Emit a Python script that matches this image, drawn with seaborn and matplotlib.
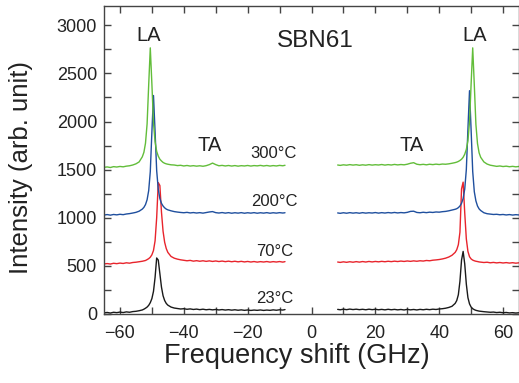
import matplotlib
matplotlib.use("Agg")
import matplotlib.pyplot as plt
import seaborn as sns
import numpy as np
from matplotlib.ticker import MultipleLocator

# ---- data: frequency grids (GHz) ----
x_left = [-65, -64, -63, -62, -61, -60, -59, -58, -57, -56, -55, -54, -53,
          -52.5, -52, -51.5, -51, -50.5, -50, -49.5, -49, -48.5, -48, -47.5,
          -47, -46.5, -46, -45.5, -45,
          -44, -43, -42, -41, -40, -39, -38, -37, -36, -35, -34, -33, -32,
          -31, -30, -29, -28, -27, -26, -25, -24, -23, -22, -21, -20, -19,
          -18, -17, -16, -15, -14, -13, -12, -11, -10, -9, -8.3]
x_right = [8.2, 9, 10, 11, 12, 13, 14, 15, 16, 17, 18, 19, 20, 21, 22, 23, 24,
           25, 26, 27, 28, 29, 30, 31, 32, 33, 34, 35, 36, 37, 38, 39, 40, 41,
           42, 43, 44,
           45, 45.5, 46, 46.5, 47, 47.5, 48, 48.5, 49, 49.5, 50, 50.5, 51,
           51.5, 52, 52.5,
           53, 54, 55, 56, 57, 58, 59, 60, 61, 62, 63, 64, 65]

# ---- intensities (arb. unit) ----
green_left = [1524, 1528, 1522, 1531, 1527, 1533, 1529, 1536, 1540, 1548, 1560, 1580, 1633,
              1680, 1775, 1975, 2380, 2765, 2390, 1985, 1790, 1690, 1640, 1608,
              1590, 1575, 1566, 1560, 1556,
              1550, 1548, 1542, 1545, 1538, 1543, 1537, 1541, 1536, 1540, 1535, 1541, 1552,
              1568, 1552, 1540, 1544, 1538, 1543, 1537, 1542, 1536, 1541, 1538, 1543, 1537,
              1542, 1539, 1544, 1538, 1543, 1537, 1542, 1538, 1544, 1540, 1545]
green_right = [1548, 1544, 1550, 1546, 1552, 1547, 1551, 1545, 1550, 1546, 1552, 1547, 1551,
               1548, 1553, 1547, 1552, 1548, 1554, 1549, 1553, 1550, 1556, 1566, 1572, 1556,
               1551, 1555, 1550, 1556, 1552, 1557, 1553, 1558, 1556, 1560, 1566,
               1573, 1578, 1585, 1595, 1608, 1628, 1660, 1710, 1800, 1995, 2390, 2765, 2380,
               1970, 1770, 1675,
               1628, 1580, 1558, 1546, 1540, 1534, 1538, 1532, 1536, 1530, 1534, 1529, 1533]

blue_left = [1028, 1033, 1027, 1034, 1030, 1036, 1032, 1039, 1043, 1049, 1056, 1068, 1090,
             1108, 1137, 1187, 1282, 1479, 1890, 2270, 1895, 1490, 1295, 1200,
             1150, 1122, 1103, 1090, 1082,
             1072, 1064, 1059, 1055, 1052, 1056, 1050, 1054, 1049, 1053, 1048, 1054, 1060,
             1064, 1053, 1049, 1054, 1048, 1053, 1047, 1052, 1048, 1053, 1047, 1052, 1048,
             1053, 1047, 1052, 1048, 1053, 1047, 1052, 1048, 1053, 1049, 1052]
blue_right = [1050, 1046, 1052, 1047, 1053, 1048, 1052, 1047, 1053, 1048, 1052, 1049, 1054,
              1048, 1053, 1049, 1054, 1050, 1055, 1050, 1054, 1051, 1056, 1066, 1068, 1055,
              1052, 1057, 1053, 1058, 1055, 1060, 1058, 1063, 1066, 1072, 1080,
              1088, 1094, 1105, 1122, 1150, 1200, 1298, 1500, 1920, 2320, 1910, 1480, 1270,
              1175, 1122, 1092,
              1075, 1052, 1042, 1038, 1034, 1036, 1031, 1034, 1029, 1033, 1028, 1032, 1029]

red_left = [520, 524, 519, 527, 523, 529, 525, 532, 528, 535, 538, 543, 548,
            552, 556, 565, 575, 590, 615, 660, 760, 1000, 1365, 1335,
            1060, 860, 745, 680, 640,
            598, 580, 570, 563, 558, 553, 557, 549, 554, 548, 553, 547, 552,
            546, 551, 545, 550, 544, 549, 543, 548, 542, 547, 541, 546, 540,
            545, 539, 544, 540, 545, 539, 544, 540, 545, 539, 544]
red_right = [540, 536, 542, 537, 543, 538, 544, 539, 545, 540, 546, 541, 546,
             542, 547, 543, 548, 544, 549, 545, 550, 546, 551, 547, 552, 548,
             553, 550, 556, 553, 559, 562, 566, 572, 580, 592, 610,
             640, 668, 720, 850, 1300, 1370, 1050, 780, 650, 595, 572, 560, 553,
             548, 545, 541,
             539, 535, 538, 532, 536, 531, 535, 530, 534, 529, 533, 528, 532]

black_left = [12, 16, 10, 18, 14, 20, 15, 22, 18, 25, 28, 34, 42,
              50, 60, 72, 90, 118, 160, 235, 380, 582, 560, 420,
              280, 190, 140, 110, 92,
              72, 62, 57, 52, 55, 49, 53, 47, 51, 45, 50, 44, 48,
              43, 47, 42, 46, 41, 45, 40, 44, 39, 43, 38, 42, 37,
              41, 38, 42, 37, 41, 38, 43, 39, 44, 41, 46]
black_right = [48, 44, 50, 45, 51, 46, 50, 45, 49, 44, 50, 45, 49,
               44, 48, 43, 49, 44, 48, 43, 47, 42, 48, 43, 47, 42,
               48, 44, 49, 45, 50, 47, 52, 55, 60, 68, 80,
               110, 140, 200, 340, 560, 650, 520, 310, 170, 105, 72, 55, 45,
               38, 34, 30,
               28, 24, 21, 18, 20, 15, 18, 13, 16, 11, 14, 10, 13]

series = [
    ("23°C", "#1a1a1a", black_left, black_right),
    ("70°C", "#e8242c", red_left, red_right),
    ("200°C", "#1f4f9e", blue_left, blue_right),
    ("300°C", "#62bd3a", green_left, green_right),
]

temp_labels = ["300°C", "200°C", "70°C", "23°C"]
temp_label_x = [-4.7, -4.4, -5.6, -5.6]
temp_label_y = [1667, 1167, 646, 156]

sns.set_style("ticks")
plt.rcParams["font.family"] = ["Liberation Sans", "Noto Sans CJK JP", "DejaVu Sans"]
plt.rcParams["axes.unicode_minus"] = True

fig = plt.figure(figsize=(5.19, 3.83), dpi=100)
ax = fig.add_axes([104 / 519, 1 - 314 / 383, 415 / 519, 308 / 383])

for name, color, yl, yr in series:
    sns.lineplot(x=x_left, y=yl, color=color, lw=1.0, ax=ax, sort=False,
                 estimator=None)
    sns.lineplot(x=x_right, y=yr, color=color, lw=1.0, ax=ax, sort=False,
                 estimator=None)

ax.set_xlim(-65, 65)
ax.set_ylim(0, 3200)
ax.xaxis.set_major_locator(MultipleLocator(20))
ax.xaxis.set_minor_locator(MultipleLocator(10))
ax.yaxis.set_major_locator(MultipleLocator(500))
ax.yaxis.set_minor_locator(MultipleLocator(250))
ax.tick_params(which="both", direction="in", top=True, right=True,
               length=5, width=1, color="#444444")
ax.tick_params(which="major", labelsize=13, labelcolor="#222222")
ax.tick_params(axis="x", which="major", pad=8)
ax.tick_params(axis="y", which="major", pad=5)
for s in ax.spines.values():
    s.set_color("#444444")
    s.set_linewidth(1.0)

ax.set_xlabel("Frequency shift (GHz)", fontsize=19.5, color="#222222")
ax.set_ylabel("Intensity (arb. unit)", fontsize=18.5, color="#222222")
ax.xaxis.set_label_coords(0.465, -0.095)
ax.yaxis.set_label_coords(-0.17, 0.477)

ax.text(-51, 2896, "LA", fontsize=14.5, ha="center", va="center", color="#222222")
ax.text(51, 2896, "LA", fontsize=14.5, ha="center", va="center", color="#222222")
ax.text(-32, 1750, "TA", fontsize=14.5, ha="center", va="center", color="#222222")
ax.text(31.4, 1750, "TA", fontsize=14.5, ha="center", va="center", color="#222222")
ax.text(1.1, 2833, "SBN61", fontsize=17.5, ha="center", va="center", color="#222222")
for lab, xx, yy in zip(temp_labels, temp_label_x, temp_label_y):
    ax.text(xx, yy, lab, fontsize=12, ha="right", va="center", color="#222222")

fig.savefig("out.png", dpi=100)
